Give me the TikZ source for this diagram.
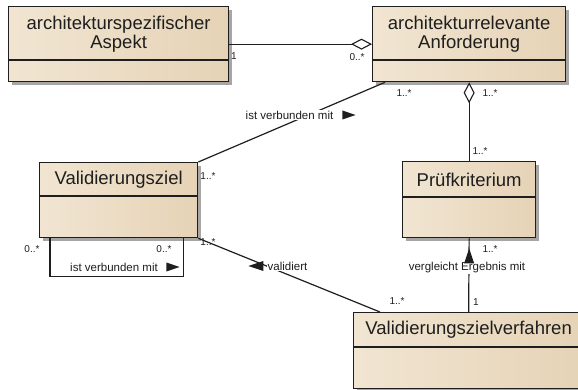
\documentclass[tikz,border=0pt]{standalone}
\usepackage{fontspec}
\setmainfont{Liberation Sans}
\usetikzlibrary{arrows.meta,calc,shadows}

\definecolor{boxleft}{HTML}{F1E5D2}
\definecolor{boxmid}{HTML}{FBF3E7}
\definecolor{boxright}{HTML}{E6D3B6}
\definecolor{ink}{HTML}{1E1E1E}

\tikzset{
  classbox/.style={rectangle, draw=ink, line width=1.3pt, inner sep=0pt, anchor=north west,
    left color=boxleft, middle color=boxmid, right color=boxright,
    drop shadow={shadow xshift=3pt, shadow yshift=-3pt, fill=black!35, opacity=1}},
  divider/.style={draw=ink, line width=1.1pt},
  classname/.style={font=\fontsize{18.5}{19.5}\selectfont, align=center, inner sep=0pt, text=ink},
  conn/.style={draw=ink, line width=1.2pt},
  mult/.style={font=\fontsize{10}{11}\selectfont, inner sep=0pt, text=ink},
  rolelabel/.style={font=\fontsize{11.5}{12}\selectfont, fill=white, inner sep=1pt, text=ink},
  Agg/.tip={Diamond[open, length=21pt, width=11pt, line width=1.1pt]},
}

\begin{document}
\begin{tikzpicture}[x=1pt, y=-1pt]
\useasboundingbox (0,0) rectangle (578,390);

% class boxes
\node[classbox, minimum width=220pt, minimum height=75pt] (asp) at (8,6) {};
\node[classbox, minimum width=193pt, minimum height=75pt] (anf) at (372,6) {};
\node[classbox, minimum width=158pt, minimum height=75pt] (vz) at (39,162) {};
\node[classbox, minimum width=133pt, minimum height=76pt] (pk) at (402,161) {};
\node[classbox, minimum width=230pt, minimum height=76pt] (verf) at (353,312) {};

% compartment dividers
\draw[divider] ($(asp.north west)+(0,54)$) -- ($(asp.north east)+(0,54)$);
\draw[divider] ($(anf.north west)+(0,54)$) -- ($(anf.north east)+(0,54)$);
\draw[divider] ($(vz.north west)+(0,34)$) -- ($(vz.north east)+(0,34)$);
\draw[divider] ($(pk.north west)+(0,36)$) -- ($(pk.north east)+(0,36)$);
\draw[divider] ($(verf.north west)+(0,35)$) -- ($(verf.north east)+(0,35)$);

% class names
\node[classname] (aspname) at ($(asp.north)+(0,28)$) {architekturspezifischer\\Aspekt};
\node[classname] (anfname) at ($(anf.north)+(0,28)$) {architekturrelevante\\Anforderung};
\node[classname] (vzname) at ($(vz.north)+(0,18)$) {Validierungsziel};
\node[classname] (pkname) at ($(pk.north)+(0,18.5)$) {Prüfkriterium};
\node[classname] (verfname) at ($(verf.north)+(0,18)$) {Validierungszielverfahren};

% connectors
\draw[conn, Agg-] (anf.west) -- (asp.east);
\draw[conn, Agg-] (anf.south) -- (pk.north);
\draw[conn] (vz.north east) -- ($(anf.south west)+(13,0)$);
\draw[conn] (vz.south east) -- ($(verf.north west)+(27,0)$);
\draw[conn] (pk.south) -- (verf.north);
\draw[conn] ($(vz.south west)+(11,0)$) |- ($(vz.south east)+(-15,38)$) -- ($(vz.south east)+(-15,0)$);

% association names with direction triangles
\node[rolelabel] (l1) at (289.5,115) {ist verbunden mit};
\fill[ink] ($(l1.east)+(8,-4.5)$) -- ++(13,4.5) -- ++(-13,4.5) -- cycle;
\node[rolelabel] (l2) at (114,267) {ist verbunden mit};
\fill[ink] ($(l2.east)+(7.5,-4.5)$) -- ++(13,4.5) -- ++(-13,4.5) -- cycle;
\node[rolelabel] (l3) at (287.5,266) {validiert};
\fill[ink] ($(l3.west)+(-3,-5)$) -- ++(-15,5) -- ++(15,5) -- cycle;
\node[rolelabel] (l4) at (467,268) {vergleicht Ergebnis mit};
\fill[ink] ($(pk.south)+(0,10)$) -- ++(-5,15) -- ++(10,0) -- cycle;

% multiplicities
\node[mult] (m1) at (234,56) {1};
\node[mult] (m2) at (357,57) {0..*};
\node[mult] (m3) at (404,93) {1..*};
\node[mult] (m4) at (490,93) {1..*};
\node[mult] (m5) at (480,151) {1..*};
\node[mult] (m6) at (208,176) {1..*};
\node[mult] (m7) at (32,249) {0..*};
\node[mult] (m8) at (164,249) {0..*};
\node[mult] (m9) at (208,242) {1..*};
\node[mult] (m10) at (397,301) {1..*};
\node[mult] (m11) at (490,249) {1..*};
\node[mult] (m12) at (476,302) {1};
\end{tikzpicture}
\end{document}
